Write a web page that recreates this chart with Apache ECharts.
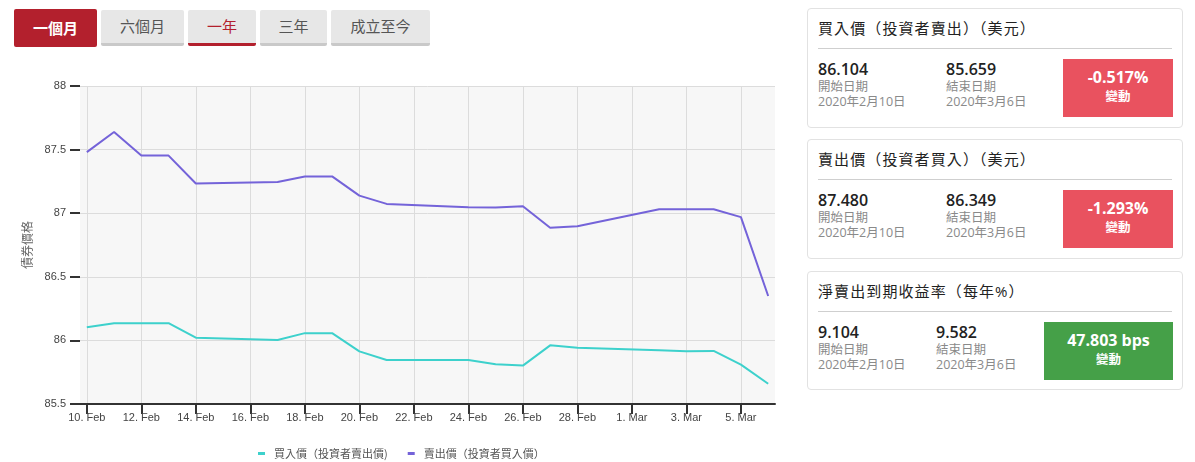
<!DOCTYPE html>
<html>
<head>
<meta charset="utf-8">
<script src="https://cdn.jsdelivr.net/npm/echarts@6/dist/echarts.min.js"></script>
<style>
  html, body { margin: 0; padding: 0; background: #fff; }
  body { width: 1195px; height: 462px; position: relative; overflow: hidden;
         font-family: "Open Sans", "Noto Sans CJK TC", sans-serif; color: #222; }
  .btn { position: absolute; top: 10px; height: 33px; line-height: 33px; text-align: center;
         background: #e7e7e7; color: #555; font-size: 15px; border-radius: 2px;
         border-bottom: 3px solid #c9c9c9; box-sizing: content-box; }
  .btn.on { background: #b3202d; color: #fff; font-weight: bold; top: 9px; height: 38px; line-height: 38px; border-bottom: 0; }
  .btn.sel { color: #b3202d; border-bottom-color: #b3202d; }
  #chart { position: absolute; left: 0; top: 0; width: 795px; height: 462px; }
  .card { position: absolute; left: 807px; width: 374px; border: 1px solid #e2e2e2; border-radius: 4px; background: #fff; }
  .card .title { position: absolute; left: 10px; top: 9px; font-size: 15px; line-height: 20px; color: #222; letter-spacing: 1.1px; }
  .card .sep { position: absolute; left: 10px; right: 10px; top: 39px; border-top: 1px solid #cfcfcf; }
  .col { position: absolute; top: 50px; }
  .col .v { font-size: 16px; font-weight: 600; line-height: 20px; color: #222; }
  .col .l { font-size: 12.5px; line-height: 15px; color: #8a8a8a; }
  .box { position: absolute; top: 50px; height: 58px; right: 9px; color: #fff; text-align: center; }
  .box .p { font-size: 16px; font-weight: bold; margin-top: 7px; line-height: 22px; }
  .box .c { font-size: 12.5px; font-weight: 600; line-height: 18px; }
  .red { background: #e9525f; }
  .green { background: #45a048; }
</style>
</head>
<body>
<div class="btn on" style="left:14px;width:83px;">一個月</div>
<div class="btn" style="left:101px;width:83px;">六個月</div>
<div class="btn sel" style="left:188px;width:68px;">一年</div>
<div class="btn" style="left:260px;width:67px;">三年</div>
<div class="btn" style="left:331px;width:99px;">成立至今</div>

<div id="chart"></div>

<div class="card" style="top:8px;height:118px;">
  <div class="title">買入價（投資者賣出）（美元）</div>
  <div class="sep"></div>
  <div class="col" style="left:10px;"><div class="v">86.104</div><div class="l">開始日期</div><div class="l">2020年2月10日</div></div>
  <div class="col" style="left:138px;"><div class="v">85.659</div><div class="l">結束日期</div><div class="l">2020年3月6日</div></div>
  <div class="box red" style="width:110px;"><div class="p">-0.517%</div><div class="c">變動</div></div>
</div>

<div class="card" style="top:139px;height:118px;">
  <div class="title">賣出價（投資者買入）（美元）</div>
  <div class="sep"></div>
  <div class="col" style="left:10px;"><div class="v">87.480</div><div class="l">開始日期</div><div class="l">2020年2月10日</div></div>
  <div class="col" style="left:138px;"><div class="v">86.349</div><div class="l">結束日期</div><div class="l">2020年3月6日</div></div>
  <div class="box red" style="width:110px;"><div class="p">-1.293%</div><div class="c">變動</div></div>
</div>

<div class="card" style="top:271px;height:117px;">
  <div class="title">淨賣出到期收益率（每年%）</div>
  <div class="sep"></div>
  <div class="col" style="left:10px;"><div class="v">9.104</div><div class="l">開始日期</div><div class="l">2020年2月10日</div></div>
  <div class="col" style="left:128px;"><div class="v">9.582</div><div class="l">結束日期</div><div class="l">2020年3月6日</div></div>
  <div class="box green" style="width:129px;"><div class="p">47.803 bps</div><div class="c">變動</div></div>
</div>

<script>
// trading days shown in the one-month view
const dates = ['2020-02-10', '2020-02-11', '2020-02-12', '2020-02-13', '2020-02-14',
  '2020-02-17', '2020-02-18', '2020-02-19', '2020-02-20', '2020-02-21',
  '2020-02-24', '2020-02-25', '2020-02-26', '2020-02-27', '2020-02-28',
  '2020-03-02', '2020-03-03', '2020-03-04', '2020-03-05', '2020-03-06'];

// bid (investor sells) - cyan
const bidPrices = [86.104, 86.135, 86.135, 86.135, 86.021, 86.003, 86.057, 86.057, 85.914, 85.846,
  85.846, 85.812, 85.802, 85.961, 85.943, 85.922, 85.914, 85.917, 85.810, 85.659];

// ask (investor buys) - purple
const askPrices = [87.480, 87.638, 87.453, 87.453, 87.234, 87.245, 87.289, 87.289, 87.138, 87.073,
  87.047, 87.044, 87.055, 86.885, 86.898, 87.031, 87.031, 87.031, 86.969, 86.349];

const tickDates = ['2020-02-10', '2020-02-12', '2020-02-14', '2020-02-16', '2020-02-18',
  '2020-02-20', '2020-02-22', '2020-02-24', '2020-02-26', '2020-02-28',
  '2020-03-01', '2020-03-03', '2020-03-05'];
const monthNames = ['Jan', 'Feb', 'Mar', 'Apr', 'May', 'Jun', 'Jul', 'Aug', 'Sep', 'Oct', 'Nov', 'Dec'];

const seriesNames = ['買入價（投資者賣出價)', '賣出價（投資者買入價）'];
const seriesColors = ['#3dd1cc', '#7463d9'];

const yMin = 85.5, yMax = 88, yStep = 0.5;

function toTs(s) {
  const p = s.split('-').map(Number);
  return new Date(p[0], p[1] - 1, p[2]).getTime();
}

const dayMs = 24 * 3600 * 1000;
const xs = dates.map(toTs);
const xMin = xs[0] - dayMs / 4;
const xMax = xs[xs.length - 1] + dayMs / 4;
const tickTs = tickDates.map(toTs);

const chart = echarts.init(document.getElementById('chart'), null, { renderer: 'canvas' });

chart.setOption({
  animation: false,
  textStyle: { fontFamily: '"Liberation Sans", Arial, "Noto Sans CJK TC", sans-serif' },
  grid: {
    left: 80, top: 86, width: 695, height: 318,
    show: true, backgroundColor: '#f7f7f7', borderWidth: 0
  },
  legend: {
    top: 443, left: 253,
    itemWidth: 7, itemHeight: 3, itemGap: 20,
    icon: 'rect',
    textStyle: { fontSize: 11, color: '#555', fontFamily: '"Noto Sans CJK TC", sans-serif', padding: [0, 0, 0, 4] },
    data: seriesNames
  },
  xAxis: {
    // timestamps on a value scale so the ticks can sit on every second day
    type: 'value',
    min: xMin, max: xMax,
    axisLine: { show: true, lineStyle: { color: '#333', width: 2 } },
    axisTick: { show: true, length: 10, lineStyle: { color: '#333', width: 2 }, customValues: tickTs },
    axisLabel: {
      customValues: tickTs,
      fontSize: 11, color: '#444', margin: 8,
      formatter: function (v) {
        const d = new Date(v);
        return d.getDate() + '. ' + monthNames[d.getMonth()];
      }
    },
    splitLine: { show: true, lineStyle: { color: '#dcdcdc', width: 1 } }
  },
  yAxis: {
    type: 'value',
    min: yMin, max: yMax, interval: yStep,
    name: '債券價格',
    nameLocation: 'middle',
    nameRotate: 90,
    nameGap: 46,
    nameTextStyle: { fontSize: 12, color: '#666', fontFamily: '"Noto Sans CJK TC", sans-serif' },
    axisLine: { show: false },
    axisTick: { show: true, length: 10, lineStyle: { color: '#333', width: 2 } },
    axisLabel: { fontSize: 11, color: '#444', margin: 14 },
    splitLine: { show: true, lineStyle: { color: '#dcdcdc', width: 1 } }
  },
  series: [
    {
      name: seriesNames[0], type: 'line', showSymbol: false,
      lineStyle: { width: 2, color: seriesColors[0] }, itemStyle: { color: seriesColors[0] },
      data: xs.map((x, i) => [x, bidPrices[i]])
    },
    {
      name: seriesNames[1], type: 'line', showSymbol: false,
      lineStyle: { width: 2, color: seriesColors[1] }, itemStyle: { color: seriesColors[1] },
      data: xs.map((x, i) => [x, askPrices[i]])
    }
  ]
});
</script>
</body>
</html>
